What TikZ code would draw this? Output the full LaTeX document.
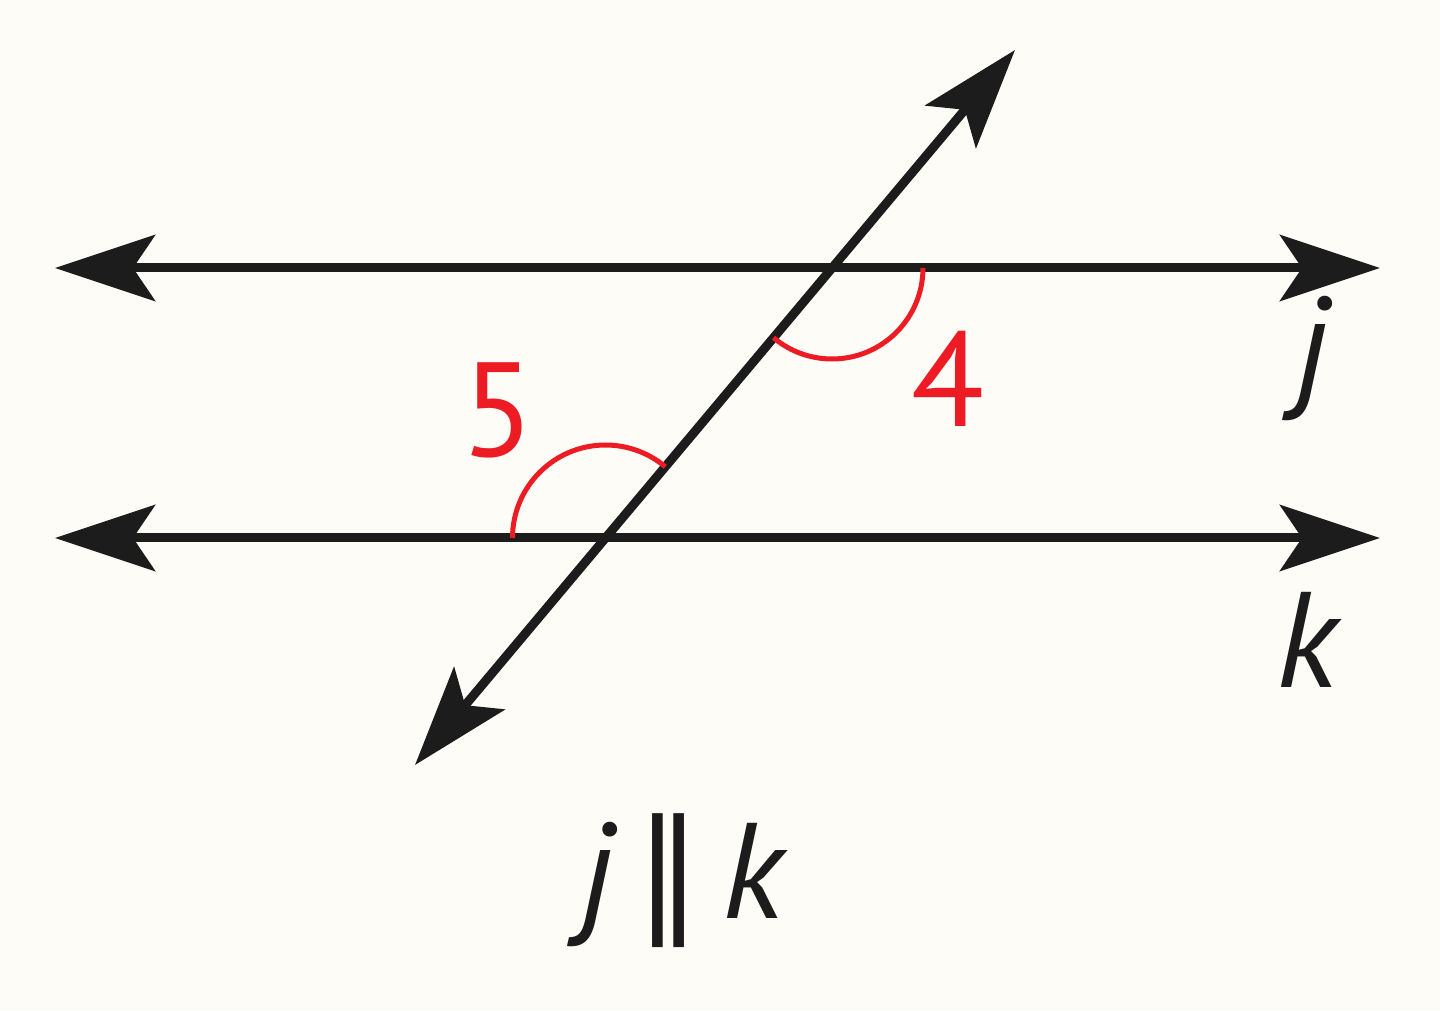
\documentclass[tikz,border=0pt]{standalone}
\usepackage{fontspec}
\setmainfont{PT Sans}
\newfontfamily\symfont{DejaVu Sans}
\usetikzlibrary{arrows.meta}
\definecolor{bg}{RGB}{253,252,247}
\definecolor{angred}{RGB}{237,28,36}
\definecolor{ink}{RGB}{28,28,28}
\begin{document}
\begin{tikzpicture}[x=1pt,y=1pt,
  lineobj/.style={draw=ink, line width=9pt,
    {Stealth[length=100pt,width=66pt,inset=22pt]}-{Stealth[length=100pt,width=66pt,inset=22pt]}},
  anglearc/.style={draw=angred, line width=5pt},
  numlabel/.style={text=angred, font=\fontsize{134}{140}\selectfont, inner sep=0pt, anchor=base},
  letlabel/.style={text=ink, font=\fontsize{136}{140}\selectfont\itshape, inner sep=0pt, anchor=base}]
\path[fill=bg, use as bounding box] (0,0) rectangle (1440,1010);
\coordinate (jL) at (55,742);
\coordinate (jR) at (1380,742);
\coordinate (kL) at (55,472);
\coordinate (kR) at (1380,472);
\coordinate (tA) at (415,245);
\coordinate (tB) at (1015,960);
\coordinate (P) at (832,742);
\coordinate (Q) at (605.5,472);
\draw[lineobj] (jL) -- (jR);
\draw[lineobj] (kL) -- (kR);
\draw[lineobj] (tA) -- (tB);
\draw[anglearc] ([shift={(0:91)}]P) arc[start angle=0,end angle=-130,radius=91];
\draw[anglearc] ([shift={(180:93)}]Q) arc[start angle=180,end angle=50,radius=93];
\node[numlabel] (n4) at (948,583) {4};
\node[numlabel] (n5) at (498,553) {5};
\node[letlabel] (lj) at (1312,617) {j};
\node[letlabel] (lk) at (1307,322) {k};
\node[letlabel] (par) at (682,92) {j\kern20pt{\symfont\upshape ∥}\kern20pt k};
\end{tikzpicture}
\end{document}
